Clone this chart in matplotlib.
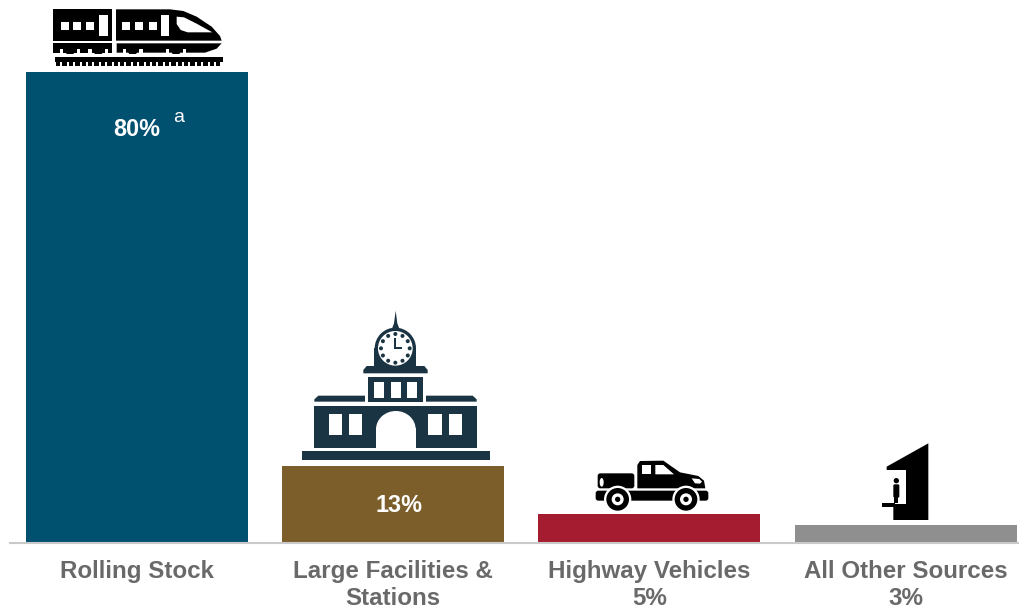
import numpy as np
import matplotlib
matplotlib.use("Agg")
import matplotlib.pyplot as plt
from matplotlib.patches import Rectangle, Polygon, Circle, Ellipse, FancyBboxPatch
from matplotlib.transforms import Affine2D

plt.rcParams["font.family"] = ["Liberation Sans", "DejaVu Sans"]

# shares by source
categories = ["Rolling Stock", "Large Facilities &\nStations", "Highway Vehicles\n5%", "All Other Sources\n3%"]
shares = [80, 13, 5, 3]
bar_colors = ["#00506f", "#7b5e2a", "#a51c30", "#8f8f8f"]
inside_labels = ["80%", "13%", None, None]

fig = plt.figure(figsize=(10.19, 6.09), dpi=100)

# bars
ax = fig.add_axes([0, 66 / 609, 1, 543 / 609])
x = np.arange(len(categories))
step = 256.2
ax.bar(x, shares, width=222 / step, color=bar_colors)
ax.set_xlim(-137 / step, 882 / step)
ax.set_ylim(0, 543 / 5.8875)
ax.set_yticks([])
ax.set_xticks(x, categories)
ax.tick_params(axis="x", length=0, pad=12)
for lab in ax.get_xticklabels():
    lab.set_fontsize(17.4)
    lab.set_fontweight("bold")
    lab.set_color("#696969")
    lab.set_linespacing(1.24)
for side in ["top", "left", "right"]:
    ax.spines[side].set_visible(False)
ax.spines["bottom"].set_color("#c9c9c9")
ax.spines["bottom"].set_linewidth(1.5)
ax.spines["bottom"].set_bounds(-127 / step, 882 / step)
ax.patch.set_alpha(0)

for xi, val, lab in zip(x, shares, inside_labels):
    if lab is None:
        continue
    # the 13% label sits a little right of its bar centre
    off_x, off_y = (-0.5, -41.5) if val > 50 else (4.5, -28)
    ax.annotate(lab, (xi, val), xytext=(off_x, off_y), textcoords="offset points",
                ha="center", va="center", color="white", fontsize=16.8, fontweight="bold")
ax.annotate("a", (0, 80), xytext=(30, -33), textcoords="offset points",
            ha="center", va="center", color="white", fontsize=14)

# pictograms, drawn on a pixel-sized layer
ic = fig.add_axes([0, 0, 1, 1])
ic.set_xlim(0, 1019)
ic.set_ylim(609, 0)
ic.axis("off")
ic.patch.set_alpha(0)


def layer(ox, oy):
    return Affine2D().scale(1 / 3).translate(ox, oy) + ic.transData


def add(patch, tr, z=3):
    patch.set_transform(tr)
    patch.set_zorder(z)
    patch.set_linewidth(0)
    ic.add_patch(patch)


def rect(tr, x0, y0, x1, y1, color, z=3):
    add(Rectangle((x0, y0), x1 - x0, y1 - y0, facecolor=color), tr, z)


# train
t = layer(20, 0)
K, W = "#000000", "#ffffff"
rect(t, 100, 28, 275, 122, K)
add(Polygon([(288, 28), (450, 28), (490, 33), (530, 50), (575, 80), (600, 108), (605, 122), (288, 122)],
            facecolor=K), t)
for cx in [135, 172, 210, 318, 358, 398]:
    rect(t, cx - 12, 66, cx + 12, 90, W, 4)
rect(t, 236, 45, 263, 108, W, 4)
rect(t, 423, 45, 448, 108, W, 4)
add(Polygon([(470, 50), (492, 52), (528, 70), (577, 97), (503, 97), (482, 90), (470, 72)], facecolor=W), t, 4)
rect(t, 100, 130, 275, 158, K)
add(Polygon([(290, 130), (605, 130), (590, 146), (555, 158), (290, 158)], facecolor=K), t)
for cx in [150, 235, 338, 468]:
    rect(t, cx - 30, 146, cx - 20, 158, W, 4)
    rect(t, cx + 20, 146, cx + 30, 158, W, 4)
    add(Polygon([(cx - 20, 148), (cx + 20, 148), (cx + 10, 162), (cx - 10, 162)], facecolor=K), t, 5)
rect(t, 105, 172, 610, 186, K)
for tx in np.arange(108, 600, 19.2):
    rect(t, tx, 186, tx + 13, 198, K)

# station
s = layer(280, 300)
D = "#1b3444"
rect(s, 65, 452, 630, 480, D)
rect(s, 103, 318, 590, 445, D)
rect(s, 288, 385, 407, 446, W, 4)
add(Ellipse((347.5, 388), 119, 110, facecolor=W), s, 4)
for x0, x1 in [(147, 185), (208, 247), (445, 485), (507, 546)]:
    rect(s, x0, 342, x1, 405, W, 4)
add(Polygon([(103, 305), (103, 298), (115, 287), (255, 287), (255, 305)], facecolor=D), s)
add(Polygon([(438, 305), (438, 287), (578, 287), (590, 298), (590, 305)], facecolor=D), s)
rect(s, 265, 230, 428, 305, D)
for x0, x1 in [(283, 313), (332, 362), (380, 410)]:
    rect(s, x0, 247, x1, 295, W, 4)
add(Polygon([(250, 220), (250, 210), (260, 198), (433, 198), (443, 210), (443, 220)], facecolor=D), s)
add(Polygon([(283, 200), (283, 145), (408, 145), (408, 200)], facecolor=D), s)
add(Circle((346, 145), 62, facecolor=D), s)
add(Circle((346, 145), 52, facecolor=W), s, 4)
for a in np.arange(0, 360, 30):
    r = np.radians(a)
    add(Circle((346 + 43 * np.cos(r), 145 + 43 * np.sin(r)), 6, facecolor=D), s, 5)
rect(s, 343, 115, 349, 148, D, 5)
rect(s, 343, 142, 366, 148, D, 5)
add(Polygon([(347, 32), (352, 70), (358, 86), (336, 86), (342, 70)], facecolor=D), s)

# pickup
p = layer(580, 440)
add(FancyBboxPatch((58, 105), 100, 35, boxstyle="round,pad=5,rounding_size=8", facecolor=K), p)
add(Polygon([(172, 145), (172, 75), (180, 63), (250, 62), (300, 97), (355, 108), (372, 122), (376, 145)],
            facecolor=K), p)
rect(p, 186, 75, 214, 102, W, 4)
add(Polygon([(226, 75), (250, 75), (282, 103), (226, 103)], facecolor=W), p, 4)
add(Polygon([(335, 115), (358, 117), (366, 125), (360, 131), (345, 130)], facecolor=W), p, 4)
add(Ellipse((65, 127), 12, 26, facecolor=W), p, 4)
add(FancyBboxPatch((52, 157), 328, 20, boxstyle="round,pad=5,rounding_size=8", facecolor=K), p)
for cx in [113, 318]:
    add(Circle((cx, 178), 41, facecolor=W), p, 4)
    add(Circle((cx, 178), 34, facecolor=K), p, 5)
    add(Circle((cx, 178), 18, facecolor=W), p, 6)
    add(Circle((cx, 178), 8, facecolor=K), p, 7)

# shelter with a waiting figure
h = layer(860, 430)
add(Polygon([(80, 110), (205, 40), (205, 270), (100, 270), (100, 222), (138, 222), (138, 120), (80, 120)],
            facecolor=K), h)
add(Circle((109, 152), 8, facecolor=K), h)
add(FancyBboxPatch((102, 165), 14, 36, boxstyle="round,pad=2,rounding_size=4", facecolor=K), h)
rect(h, 103, 200, 115, 220, K)
rect(h, 65, 220, 105, 230, K)

fig.savefig("out.png", dpi=100)
